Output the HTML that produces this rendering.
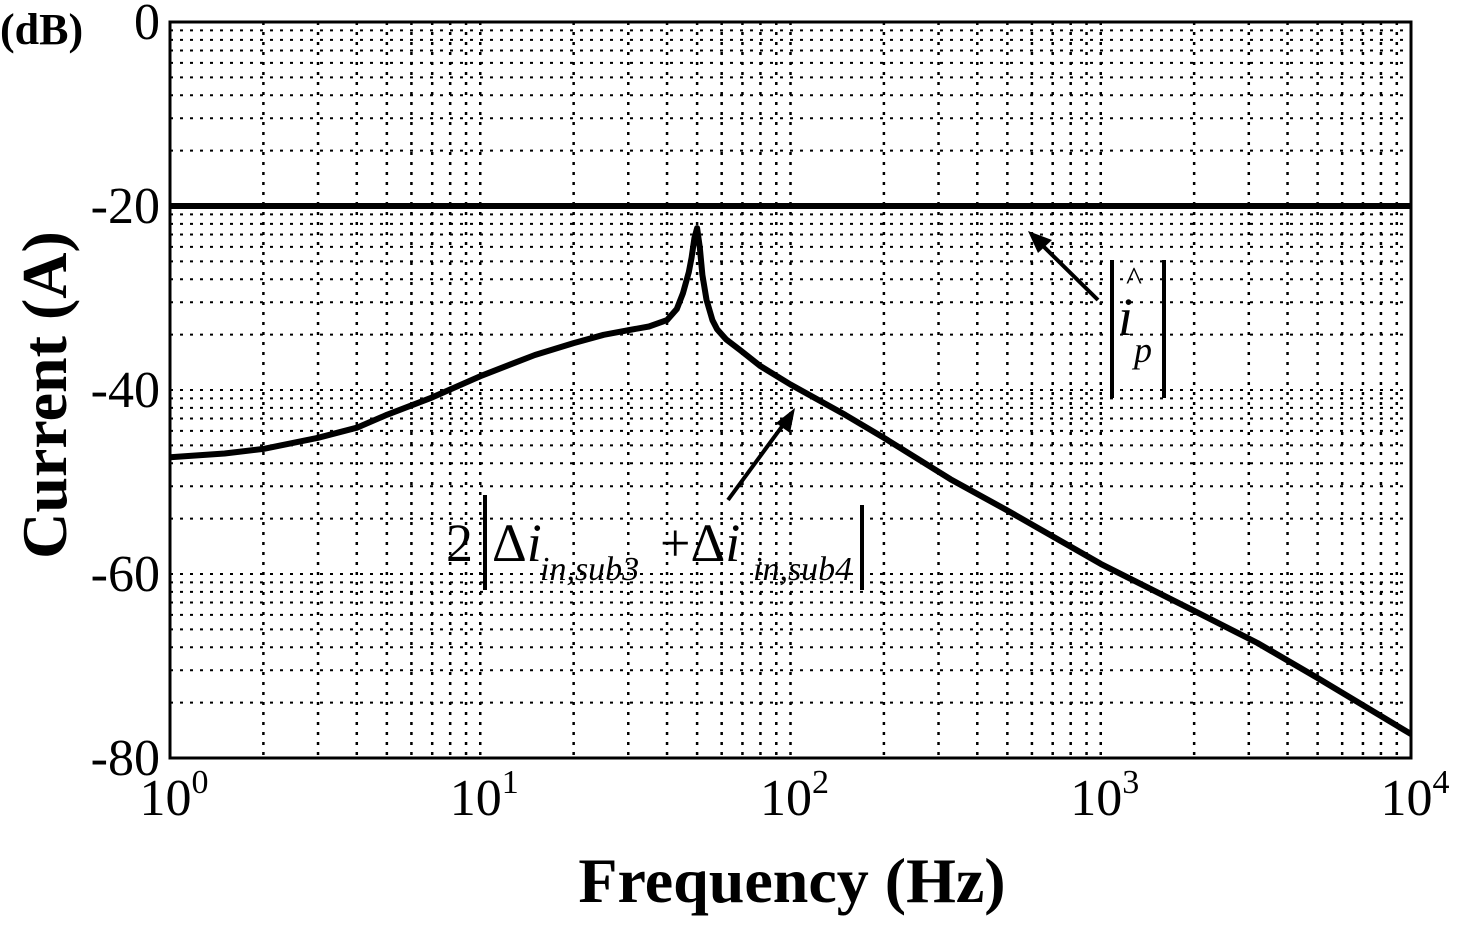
<!DOCTYPE html>
<html><head><meta charset="utf-8"><style>
html,body{margin:0;padding:0;background:#fff;}
svg{display:block;font-family:"Liberation Serif",serif;}
</style></head><body>
<svg id="chart" width="1462" height="932" viewBox="0 0 1462 932">
<g id="grid"></g>
<g id="marks"></g>
<rect x="170" y="22" width="1241" height="736" fill="none" stroke="#000" stroke-width="3"/>
<g id="ticks"></g>
<text x="0" y="44" font-size="44" font-weight="bold">(dB)</text>
<text transform="translate(66,395) rotate(-90)" text-anchor="middle" font-size="64" font-weight="bold">Current (A)</text>
<text x="792" y="902" text-anchor="middle" font-size="64" font-weight="bold">Frequency (Hz)</text>
<g>
<line x1="1098" y1="300" x2="1040" y2="243" stroke="#000" stroke-width="4"/>
<polygon points="1028,231 1052,240 1038,253" fill="#000"/>
<line x1="1112" y1="260" x2="1112" y2="398" stroke="#000" stroke-width="4"/>
<line x1="1164" y1="260" x2="1164" y2="398" stroke="#000" stroke-width="4"/>
<text x="1118" y="335" font-size="54" font-style="italic">i</text>
<text x="1126" y="290" font-size="34">^</text>
<text x="1134" y="362" font-size="36" font-style="italic">p</text>
</g>
<g>
<line x1="728" y1="500" x2="786" y2="421" stroke="#000" stroke-width="4"/>
<polygon points="795,408 790,433 776,423" fill="#000"/>
<text x="446" y="561" font-size="54">2</text>
<line x1="485" y1="495" x2="485" y2="590" stroke="#000" stroke-width="4"/>
<text x="492" y="561" font-size="54">Δ<tspan font-style="italic">i</tspan></text>
<text x="540" y="580" font-size="34" font-style="italic">in,sub3</text>
<text x="660" y="561" font-size="54">+Δ<tspan font-style="italic">i</tspan></text>
<text x="753" y="580" font-size="34" font-style="italic">in,sub4</text>
<line x1="862" y1="505" x2="862" y2="590" stroke="#000" stroke-width="4"/>
</g>
</svg>
<script>
const freqs = [1,1.5,2,3,4,5,7,10,13,15,20,25,30,35,40,43,45,47,48,49,50,51,52,53.6,56,58,62,69,80,100,150,200,328,500,1000,2000,3200,5000,10000];
const currentDb = [-47.3,-46.9,-46.4,-45.2,-44.1,-42.7,-40.8,-38.5,-37.0,-36.2,-34.9,-34.0,-33.5,-33.1,-32.4,-31.2,-29.5,-27.2,-25.6,-23.5,-22.4,-24.5,-27.5,-30.2,-32.4,-33.4,-34.5,-35.7,-37.4,-39.4,-42.7,-45.2,-49.7,-53.1,-58.9,-64.0,-67.5,-71.3,-77.4];
const ipDb = [-20,-20];
const ipFreqs = [1,10000];
const xDecades = [0,1,2,3,4];
const yTicks = [0,-20,-40,-60,-80];

const X0=170,X1=1411,Y0=22,Y1=758;
const xs = f => X0 + (Math.log10(f)-0)/4*(X1-X0);
const ys = d => Y0 + (0-d)/80*(Y1-Y0);
const NS="http://www.w3.org/2000/svg";
function mk(tag,attrs,parent){const e=document.createElementNS(NS,tag);for(const k in attrs)e.setAttribute(k,attrs[k]);parent.appendChild(e);return e;}
const grid=document.getElementById('grid'),marks=document.getElementById('marks'),ticks=document.getElementById('ticks');
for(let d=0;d<4;d++){for(let k=1;k<=9;k++){const f=k*Math.pow(10,d);if(f===1)continue;const x=xs(f);
const l=mk('line',{x1:x,y1:Y0,x2:x,y2:Y1,stroke:'#000','stroke-width':2.5,'stroke-dasharray':'3,7'},grid);

}}
const band=(Y1-Y0)/4;
for(let b=0;b<4;b++){const top=Y0+b*band;for(let k=2;k<=9;k++){const y=top+band*(1-Math.log10(k));
const l=mk('line',{x1:X0,y1:y,x2:X1,y2:y,stroke:'#000','stroke-width':2,'stroke-dasharray':'3,7'},grid);

}
if(b>0){const l=mk('line',{x1:X0,y1:top,x2:X1,y2:top,stroke:'#000','stroke-width':2,'stroke-dasharray':'3,7'},grid);

}}
const ipl=mk('polyline',{points:ipFreqs.map((f,i)=>xs(f)+','+ys(ipDb[i])).join(' '),fill:'none',stroke:'#000','stroke-width':6},marks);


const cur=mk('polyline',{points:freqs.map((f,i)=>xs(f).toFixed(1)+','+ys(currentDb[i]).toFixed(1)).join(' '),fill:'none',stroke:'#000','stroke-width':6,'stroke-linejoin':'round'},marks);


yTicks.forEach(v=>{const t=mk('text',{x:160,y:ys(v)+17,'text-anchor':'end','font-size':52},ticks);t.textContent=String(v);

});
xDecades.forEach(d=>{const t=mk('text',{x:xs(Math.pow(10,d))+4,y:815,'text-anchor':'middle','font-size':52},ticks);
t.textContent='10';const s=mk('tspan',{dy:-22,'font-size':34},t);s.textContent=String(d);

});
</script>
</body></html>
